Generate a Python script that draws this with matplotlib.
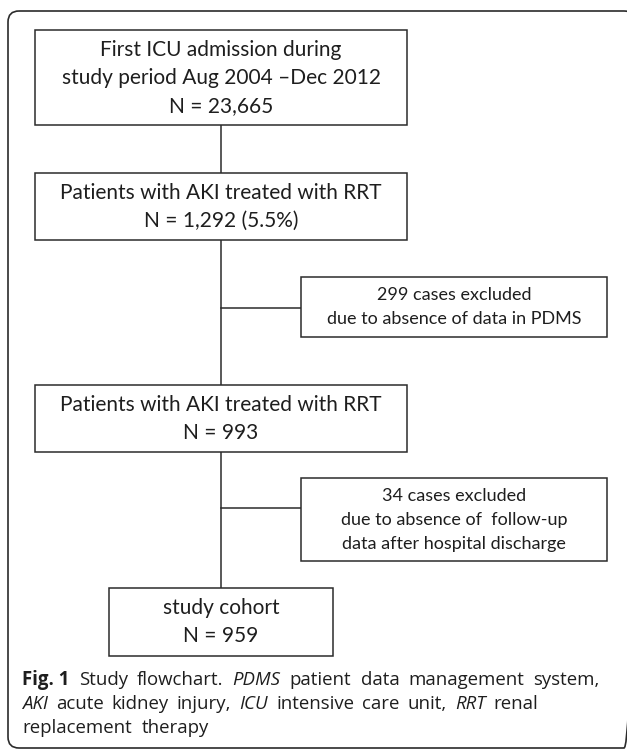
"""Study flowchart (Fig. 1) redrawn with matplotlib."""

import matplotlib

matplotlib.use("Agg")
import matplotlib.pyplot as plt
from matplotlib.patches import FancyBboxPatch, Rectangle

# --- content -------------------------------------------------------------
stage_titles = [
    "First ICU admission during\nstudy period Aug 2004 \u2013Dec 2012",
    "Patients with AKI treated with RRT",
    "Patients with AKI treated with RRT",
    "study cohort",
]
stage_counts = ["23,665", "1,292 (5.5%)", "993", "959"]

excluded_counts = [299, 34]
excluded_reasons = [
    "due to absence of data in PDMS",
    "due to absence of  follow-up\ndata after hospital discharge",
]

caption_lines = [
    [("Fig. 1", "bold"), ("Study", "n"), ("flowchart.", "n"), ("PDMS", "i"),
     ("patient", "n"), ("data", "n"), ("management", "n"), ("system,", "n")],
    [("AKI", "i"), ("acute", "n"), ("kidney", "n"), ("injury,", "n"), ("ICU", "i"),
     ("intensive", "n"), ("care", "n"), ("unit,", "n"), ("RRT", "i"), ("renal", "n")],
    [("replacement", "n"), ("therapy", "n")],
]

# --- layout (pixel units, y grows downward) ------------------------------
W, H = 627, 754
LINE = "#2b2b2b"
TXT = "#1e1e1e"
BOX_FONT = ["Lato", "DejaVu Sans"]
CAP_FONT = ["Open Sans", "DejaVu Sans"]

# main boxes: (x0, x1, y0, y1)
main_boxes = [(35, 407, 30, 125), (35, 407, 173, 240), (35, 407, 385, 452), (109, 333, 588, 656)]
side_boxes = [(301, 607, 277, 337), (301, 607, 478, 561)]
side_links = [308, 508]
spine_x = 221

fig = plt.figure(figsize=(W / 100, H / 100), dpi=100)
ax = fig.add_axes([0, 0, 1, 1])
ax.set_xlim(0, W)
ax.set_ylim(H, 0)
ax.axis("off")

# outer frame (rounded, its right side sits past the image edge)
ax.add_patch(FancyBboxPatch((8, 11), 627, 737, boxstyle="round,pad=0,rounding_size=11",
                            fill=False, ec=LINE, lw=1.2, clip_on=True))

# spine connecting the main boxes
ax.plot([spine_x, spine_x], [main_boxes[0][3], main_boxes[-1][2]], color=LINE, lw=1.1)


def box(x0, x1, y0, y1, lines, size, pitch):
    ax.add_patch(Rectangle((x0, y0), x1 - x0, y1 - y0, fc="white", ec=LINE, lw=1.1, zorder=2))
    cx = (x0 + x1) / 2
    cy = (y0 + y1) / 2
    n = len(lines)
    for i, s in enumerate(lines):
        yc = cy + (i - (n - 1) / 2) * pitch
        ax.text(cx, yc + size * 0.42, s, ha="center", va="baseline", fontsize=size,
                family=BOX_FONT, color=TXT, zorder=3)


for (x0, x1, y0, y1), title, n in zip(main_boxes, stage_titles, stage_counts):
    box(x0, x1, y0, y1, title.split("\n") + [f"N = {n}"], 15, 28)

for (x0, x1, y0, y1), yl, cnt, why in zip(side_boxes, side_links, excluded_counts, excluded_reasons):
    ax.plot([spine_x, x0], [yl, yl], color=LINE, lw=1.1)
    box(x0, x1, y0, y1, [f"{cnt} cases excluded"] + why.split("\n"), 13, 24)

# caption, justified like the journal layout
renderer = fig.canvas.get_renderer()
cap_size = 13.4
cap_left = 22
cap_right = [600, 538, None]  # line 3 is ragged
cap_base = [685, 709, 733]
styles = {"n": dict(), "i": dict(style="italic"), "bold": dict(weight="bold")}


def width_of(word, st):
    t = ax.text(0, 0, word, fontsize=cap_size, family=CAP_FONT, **styles[st])
    bb = t.get_window_extent(renderer)
    t.remove()
    return bb.width


space = width_of("a b", "n") - width_of("ab", "n")
for words, yb, right in zip(caption_lines, cap_base, cap_right):
    widths = [width_of(w, st) for w, st in words]
    if right is not None:
        gap = (right - cap_left - sum(widths)) / (len(words) - 1)
    else:
        gap = space * 2
    x = cap_left
    for (w, st), wd in zip(words, widths):
        ax.text(x, yb, w, ha="left", va="baseline", fontsize=cap_size, family=CAP_FONT,
                color=TXT, **styles[st])
        x += wd + gap

fig.savefig("out.png", dpi=100)
